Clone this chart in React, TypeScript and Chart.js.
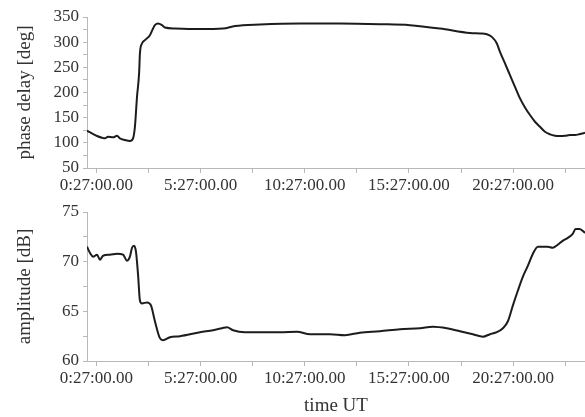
import { useEffect, useRef } from "react";
import { Chart, registerables } from "chart.js";

Chart.register(...registerables);

// Phase delay of the received signal (hours after 00:00 UT, degrees)
const phaseHours = [
  0, 0.24, 0.48, 0.72, 0.86, 1.01, 1.25, 1.44, 1.58, 1.82, 2.06, 2.21, 2.3, 2.4, 2.5, 2.54, 2.64, 2.78,
  3.02, 3.17, 3.26, 3.41, 3.6, 3.74, 4.22, 5.42, 6.53, 7.1, 8.3, 10.22, 12.14, 14.06, 15.5, 16.94,
  18.38, 18.86, 19.19, 19.43, 19.67, 19.82, 20.06, 20.3, 20.54, 20.78, 21.02, 21.26, 21.5, 21.74,
  21.98, 22.22, 22.46, 22.7, 22.94, 23.18, 23.42, 23.66, 23.9,
];
const phaseDeg = [
  124, 118.8, 113.5, 110.1, 108.9, 112.1, 110.9, 114.1, 108.9, 105.6, 103.6, 108.9, 132, 191.5, 237.9,
  277.6, 297.4, 304, 313.9, 327.2, 333.7, 337.1, 333.7, 329.1, 327.2, 326, 327, 332, 335, 337, 337,
  335.7, 333.7, 327, 318, 317.2, 315.9, 310.5, 297.4, 280.7, 257.7, 234.5, 211.3, 188.3, 170.4, 155.2,
  141.9, 131.9, 122, 116.9, 114.1, 113.5, 114.1, 115.5, 115.5, 117.5, 120,
];

// Signal amplitude (hours after 00:00 UT, dB)
const ampHours = [
  0, 0.14, 0.29, 0.48, 0.62, 0.77, 1.1, 1.44, 1.73, 1.92, 2.06, 2.16, 2.26, 2.35, 2.45, 2.54, 2.64,
  2.88, 3.07, 3.26, 3.5, 3.65, 3.98, 4.46, 5.42, 6.05, 6.48, 6.72, 7.01, 7.58, 9.26, 10.08, 10.7,
  11.66, 12.38, 13.1, 14.06, 15.02, 15.98, 16.6, 17.27, 17.9, 18.52, 19.0, 19.34, 19.67, 19.96,
  20.2, 20.44, 20.68, 20.92, 21.16, 21.4, 21.64, 22.11, 22.35, 22.59, 22.83, 23.07, 23.31, 23.45,
  23.64, 23.9,
];
const ampDb = [
  71.5, 70.9, 70.5, 70.7, 70.2, 70.6, 70.7, 70.8, 70.7, 70.1, 70.5, 71.4, 71.6, 71.0, 68.7, 66.1,
  65.8, 65.9, 65.6, 64.0, 62.3, 62.1, 62.4, 62.5, 62.9, 63.1, 63.3, 63.4, 63.1, 62.9, 62.9, 62.95,
  62.7, 62.7, 62.6, 62.85, 63.0, 63.2, 63.3, 63.45, 63.3, 63.0, 62.7, 62.45, 62.7, 62.9, 63.3, 64.0,
  65.6, 67.1, 68.5, 69.6, 70.8, 71.5, 71.5, 71.4, 71.7, 72.1, 72.4, 72.8, 73.3, 73.3, 72.9,
];

// Time axis: labelled every 5 h, minor marks in between
const timeTicks = [0.45, 2.95, 5.45, 7.95, 10.45, 12.95, 15.45, 17.95, 20.45, 22.95];
const timeTickLabels = [
  "0:27:00.00", "", "5:27:00.00", "", "10:27:00.00", "", "15:27:00.00", "", "20:27:00.00", "",
];

const phaseTicks = [50, 75, 100, 125, 150, 175, 200, 225, 250, 275, 300, 325, 350];
const phaseTickLabels = ["50", "", "100", "", "150", "", "200", "", "250", "", "300", "", "350"];
const ampTicks = [60, 62.5, 65, 67.5, 70, 72.5, 75];
const ampTickLabels = ["60", "", "65", "", "70", "", "75"];

const SERIF = '"Liberation Serif", "Times New Roman", serif';
const INK = "#333";
const AXIS = "#b8b8b8";

type PanelProps = {
  width: number;
  height: number;
  top: number;
  xs: number[];
  ys: number[];
  yMin: number;
  yMax: number;
  yTicks: number[];
  yTickLabels: string[];
  yTitle: string;
  xTitle?: string;
  xAxisHeight: number;
};

function Panel(p: PanelProps) {
  const ref = useRef<HTMLCanvasElement | null>(null);

  useEffect(() => {
    if (!ref.current) return;
    const points = p.xs.map((x, i) => ({ x, y: p.ys[i] }));
    const chart = new Chart(ref.current, {
      type: "line",
      data: {
        datasets: [
          {
            data: points,
            borderColor: "#1c1c1c",
            borderWidth: 2,
            pointRadius: 0,
            cubicInterpolationMode: "monotone",
            fill: false,
          },
        ],
      },
      options: {
        responsive: false,
        animation: false,
        events: [],
        layout: { padding: { top: 17, left: 0, right: 0, bottom: 0 } },
        plugins: { legend: { display: false }, tooltip: { enabled: false } },
        scales: {
          x: {
            type: "linear",
            min: 0,
            max: 23.9,
            afterBuildTicks: (scale: any) => {
              scale.ticks = timeTicks.map((v) => ({ value: v }));
            },
            afterFit: (scale: any) => {
              scale.height = p.xAxisHeight;
            },
            ticks: {
              autoSkip: false,
              maxRotation: 0,
              padding: 2,
              color: INK,
              font: { family: SERIF, size: 17 },
              callback: (_v: any, i: number) => timeTickLabels[i] ?? "",
            },
            grid: { drawOnChartArea: false, drawTicks: true, tickLength: 5, color: AXIS },
            border: { display: true, color: AXIS, width: 1 },
            title: p.xTitle
              ? {
                  display: true,
                  text: p.xTitle,
                  color: INK,
                  font: { family: SERIF, size: 19 },
                  padding: { top: 0, bottom: 0 },
                }
              : { display: false },
          },
          y: {
            type: "linear",
            min: p.yMin,
            max: p.yMax,
            afterBuildTicks: (scale: any) => {
              scale.ticks = p.yTicks.map((v) => ({ value: v }));
            },
            afterFit: (scale: any) => {
              scale.width = 87;
            },
            ticks: {
              autoSkip: false,
              padding: 4,
              color: INK,
              font: { family: SERIF, size: 17 },
              callback: (_v: any, i: number) => p.yTickLabels[i] ?? "",
            },
            grid: { drawOnChartArea: false, drawTicks: true, tickLength: 4, color: AXIS },
            border: { display: true, color: AXIS, width: 1 },
            title: {
              display: true,
              text: p.yTitle,
              color: INK,
              font: { family: SERIF, size: 19 },
              padding: { top: 14, bottom: 0 },
            },
          },
        },
      },
    } as any);
    return () => chart.destroy();
  }, []);

  return (
    <div style={{ position: "absolute", left: 0, top: p.top, width: p.width, height: p.height }}>
      <canvas ref={ref} width={p.width} height={p.height} style={{ width: p.width, height: p.height }} />
    </div>
  );
}

export default function App() {
  return (
    <div
      style={{
        position: "fixed",
        left: 0,
        top: 0,
        width: 585,
        height: 417,
        background: "#fff",
        overflow: "hidden",
      }}
    >
      <Panel
        width={585}
        height={200}
        top={0}
        xs={phaseHours}
        ys={phaseDeg}
        yMin={50}
        yMax={350}
        yTicks={phaseTicks}
        yTickLabels={phaseTickLabels}
        yTitle="phase delay [deg]"
        xAxisHeight={32}
      />
      <Panel
        width={585}
        height={222}
        top={195}
        xs={ampHours}
        ys={ampDb}
        yMin={60}
        yMax={75}
        yTicks={ampTicks}
        yTickLabels={ampTickLabels}
        yTitle="amplitude [dB]"
        xTitle="time UT"
        xAxisHeight={56}
      />
    </div>
  );
}
